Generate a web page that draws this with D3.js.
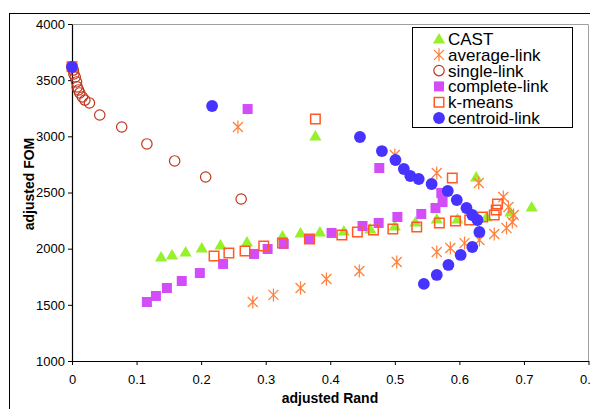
<!DOCTYPE html>
<html>
<head>
<meta charset="utf-8">
<script src="https://cdn.jsdelivr.net/npm/d3@7"></script>
<style>
  body { margin: 0; background: #fff; }
  svg { display: block; }
  text { font-family: "Liberation Sans", Arial, sans-serif; }
</style>
</head>
<body>
<svg id="chart" width="590" height="409"></svg>
<script>
// [adjusted Rand, adjusted FOM] per clustering method
const castPts = [
  [0.138,1926],[0.155,1944],[0.176,1970],[0.201,2006],[0.230,2033],[0.271,2059],
  [0.326,2113],[0.354,2140],[0.384,2148],[0.421,2157],[0.462,2175],[0.500,2202],
  [0.532,2237],[0.565,2264],[0.597,2264],[0.642,2282],[0.679,2326],[0.712,2371],
  [0.626,2638],[0.377,3003]
];
const averageLinkPts = [
  [0.257,3083],[0.280,1525],[0.312,1588],[0.354,1650],[0.394,1730],[0.445,1801],
  [0.503,1881],[0.565,1970],[0.586,2006],[0.608,2050],[0.631,2077],[0.654,2131],
  [0.673,2184],[0.682,2237],[0.684,2300],[0.676,2371],[0.668,2460],[0.630,2585],
  [0.565,2674],[0.500,2834]
];
const singleLinkPts = [
  [0.000,3620],[0.002,3590],[0.003,3555],[0.005,3528],[0.007,3484],[0.008,3440],
  [0.010,3413],[0.012,3386],[0.016,3350],[0.020,3323],[0.027,3297],[0.043,3190],
  [0.077,3083],[0.116,2932],[0.159,2781],[0.207,2638],[0.262,2442]
];
const completeLinkPts = [
  [0.000,3620],[0.116,1525],[0.130,1579],[0.147,1650],[0.170,1712],[0.198,1783],
  [0.234,1864],[0.282,1953],[0.303,1997],[0.328,2042],[0.367,2086],[0.402,2140],
  [0.450,2202],[0.475,2229],[0.504,2282],[0.541,2309],[0.563,2362],[0.574,2415],
  [0.572,2496],[0.476,2718],[0.272,3243]
];
const kMeansPts = [
  [0.000,3620],[0.220,1935],[0.243,1961],[0.268,1979],[0.297,2024],[0.326,2050],
  [0.368,2086],[0.418,2122],[0.442,2148],[0.467,2166],[0.497,2175],[0.534,2193],
  [0.569,2229],[0.594,2246],[0.616,2255],[0.636,2282],[0.654,2300],[0.657,2344],
  [0.659,2398],[0.589,2629],[0.377,3154]
];
const centroidLinkPts = [
  [0.000,3617],[0.217,3270],[0.446,2994],[0.480,2869],[0.501,2789],[0.514,2709],
  [0.524,2647],[0.537,2620],[0.557,2576],[0.582,2513],[0.596,2433],[0.611,2362],
  [0.620,2300],[0.628,2255],[0.631,2148],[0.620,2015],[0.602,1944],[0.583,1855],
  [0.565,1766],[0.545,1686]
];

const seriesNames = ["CAST","average-link","single-link","complete-link","k-means","centroid-link"];
const xTicks = [0,0.1,0.2,0.3,0.4,0.5,0.6,0.7,0.8];
const xTickLabels = ["0","0.1","0.2","0.3","0.4","0.5","0.6","0.7","0.8"];
const yTicks = [1000,1500,2000,2500,3000,3500,4000];
const yTickLabels = ["1000","1500","2000","2500","3000","3500","4000"];

const svg = d3.select("#chart");
const W = 590, H = 409;
const plot = { left: 72, right: 588.5, top: 24, bottom: 361 };

const x = d3.scaleLinear().domain([0, 0.8]).range([plot.left, plot.right]);
const y = d3.scaleLinear().domain([1000, 4000]).range([plot.bottom, plot.top]);

// page background and outer chart frame
svg.append("rect").attr("width", W).attr("height", H).attr("fill", "#fff");
svg.append("rect").attr("x", 9.5).attr("y", 13.5).attr("width", 620).attr("height", 420)
  .attr("fill", "none").attr("stroke", "#000").attr("stroke-width", 1);

// plot area border (top and right)
svg.append("path")
  .attr("d", `M${plot.left},${plot.top + 0.5}H${plot.right}V${plot.bottom}`)
  .attr("fill", "none").attr("stroke", "#a0a0a0").attr("stroke-width", 1);

// axes
const xAxis = d3.axisBottom(x).tickValues(xTicks).tickSize(4).tickSizeOuter(0)
  .tickFormat((d, i) => xTickLabels[i]);
const yAxis = d3.axisLeft(y).tickValues(yTicks).tickSize(4).tickSizeOuter(0)
  .tickFormat((d, i) => yTickLabels[i]);

const gx = svg.append("g").attr("transform", `translate(0,${plot.bottom})`).call(xAxis);
const gy = svg.append("g").attr("transform", `translate(${plot.left},0)`).call(yAxis);
[gx, gy].forEach(g => {
  g.select(".domain").attr("stroke", "#000").attr("stroke-width", 1.2);
  g.selectAll(".tick line").attr("stroke", "#000");
  g.selectAll(".tick text").attr("fill", "#000").attr("font-size", 13)
    .style("font-family", '"Liberation Sans", Arial, sans-serif');
});
gx.selectAll(".tick text").attr("dy", "1.2em");
gy.selectAll(".tick text").attr("x", -7);

// axis titles
svg.append("text").attr("x", 330).attr("y", 403).attr("text-anchor", "middle")
  .attr("font-size", 14).attr("font-weight", "bold").text("adjusted Rand");
svg.append("text").attr("transform", "translate(34,184) rotate(-90)").attr("text-anchor", "middle")
  .attr("font-size", 14).attr("font-weight", "bold").text("adjusted FOM");

// marker shapes
const tri = d3.symbol().type(d3.symbolTriangle).size(64)();
const sq = d3.symbol().type(d3.symbolSquare).size(100)();
const openSq = d3.symbol().type(d3.symbolSquare).size(90)();
const dot = d3.symbol().type(d3.symbolCircle).size(110)();
const ring = d3.symbol().type(d3.symbolCircle).size(85)();
const star = "M-5,-5L5,5M-5,5L5,-5M0,-6.5V6.5";

const styles = [
  { pts: castPts, d: tri, fill: "#96F02C", stroke: "none", sw: 0, dy: 1 },
  { pts: averageLinkPts, d: star, fill: "none", stroke: "#FF7F3A", sw: 1.2, dy: 0 },
  { pts: singleLinkPts, d: ring, fill: "none", stroke: "#C0361E", sw: 1.2, dy: 0 },
  { pts: completeLinkPts, d: sq, fill: "#D24DF8", stroke: "none", sw: 0, dy: 0 },
  { pts: kMeansPts, d: openSq, fill: "none", stroke: "#FF5A26", sw: 1.5, dy: 0 },
  { pts: centroidLinkPts, d: dot, fill: "#4733FF", stroke: "none", sw: 0, dy: 0 }
];

styles.forEach(s => {
  svg.append("g").selectAll("path").data(s.pts).join("path")
    .attr("transform", p => `translate(${x(p[0])},${y(p[1]) + s.dy})`)
    .attr("d", s.d)
    .attr("fill", s.fill)
    .attr("stroke", s.stroke)
    .attr("stroke-width", s.sw);
});

// legend
const lg = svg.append("g");
lg.append("rect").attr("x", 412.5).attr("y", 27.5).attr("width", 160).attr("height", 100)
  .attr("fill", "#fff").attr("stroke", "#000").attr("stroke-width", 1);
styles.forEach((s, i) => {
  const cy = 39 + i * 15.8;
  lg.append("path").attr("transform", `translate(439,${cy + s.dy})`).attr("d", s.d)
    .attr("fill", s.fill).attr("stroke", s.stroke).attr("stroke-width", s.sw);
  lg.append("text").attr("x", 448).attr("y", cy + 6).attr("font-size", 17)
    .attr("fill", "#000").text(seriesNames[i]);
});
</script>
</body>
</html>
